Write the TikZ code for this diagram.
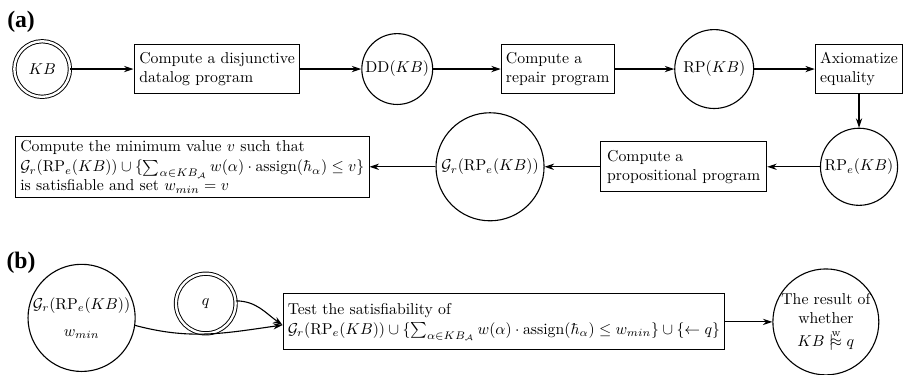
\documentclass[tikz,border=0pt]{standalone}
\usepackage{amsmath,amssymb}
\usepackage{fontspec}
\usepackage{tikz}
\usetikzlibrary{arrows.meta,calc,positioning}
\newfontfamily\panelfont{Liberation Serif}[BoldFont={Liberation Serif Bold}]
\newcommand{\wentails}{\mathrel{|\!\!\!\stackrel{\mathrm{w}}{\approx}}}
\tikzset{
  flow/.style={-{Stealth[length=6pt,width=4pt]}, line width=0.7pt},
  procbox/.style={draw, line width=0.7pt, align=left, inner xsep=3pt, inner ysep=2pt},
  datanode/.style={draw, circle, line width=0.7pt, inner sep=0pt, align=center},
  inputnode/.style={circle, draw, line width=0.6pt, double, double distance=1.5pt, inner sep=0pt},
  panellabel/.style={font=\panelfont\bfseries\fontsize{15}{15}\selectfont}
}
\begin{document}
\begin{tikzpicture}[scale=1.0]
  \useasboundingbox (0,0) rectangle (20.23,8.36);
  % (a)
  \node[panellabel] (labela) at (0.47,7.87) {(a)};
  \node[inputnode, minimum size=1.24cm] (kb) at (0.94,6.82) {$KB$};
  \node[procbox, minimum width=3.70cm, minimum height=1.09cm] (disj) at (4.84,6.82) {Compute a disjunctive\\datalog program};
  \node[datanode, minimum size=1.58cm] (dd) at (8.86,6.82) {$\mathrm{DD}(KB)$};
  \node[procbox, minimum width=2.45cm, minimum height=1.09cm] (repair) at (12.44,6.82) {Compute a\\repair program};
  \node[datanode, minimum size=1.76cm] (rp) at (15.93,6.82) {$\mathrm{RP}(KB)$};
  \node[procbox, minimum width=1.92cm, minimum height=1.09cm] (axiom) at (19.16,6.82) {Axiomatize\\equality};
  \node[datanode, minimum size=1.72cm] (rpe) at (19.16,4.64) {$\mathrm{RP}_e(KB)$};
  \node[procbox, minimum width=3.70cm, minimum height=1.11cm, inner xsep=4pt] (prop) at (15.25,4.64) {Compute a\\propositional program};
  \node[datanode, minimum size=2.41cm] (ground) at (10.93,4.64) {$\mathcal{G}_r(\mathrm{RP}_e(KB))$};
  \node[procbox, minimum width=7.83cm, minimum height=1.36cm] (minval) at (4.29,4.64) {Compute the minimum value $v$ such that\\[1pt]$\mathcal{G}_r(\mathrm{RP}_e(KB))\cup\{\sum_{\alpha\in KB_{\mathcal{A}}} w(\alpha)\cdot\mathrm{assign}(\hbar_\alpha)\leq v\}$\\is satisfiable and set $w_{min}=v$};
  \draw[flow] (kb) -- (disj);
  \draw[flow] (disj) -- (dd);
  \draw[flow] (dd) -- (repair);
  \draw[flow] (repair) -- (rp);
  \draw[flow] (rp) -- (axiom);
  \draw[flow] (axiom) -- (rpe);
  \draw[flow] (rpe) -- (prop);
  \draw[flow] (prop) -- (ground);
  \draw[flow] (ground) -- (minval);
  % (b)
  \node[panellabel] (labelb) at (0.47,2.50) {(b)};
  \node[datanode, minimum size=2.39cm] (groundw) at (1.82,1.27) {$\mathcal{G}_r(\mathrm{RP}_e(KB))$\\[5pt]$w_{min}$};
  \node[inputnode, minimum size=1.33cm] (query) at (4.59,1.59) {$q$};
  \node[procbox, minimum width=9.77cm, minimum height=1.25cm] (test) at (11.24,1.18) {Test the satisfiability of\\[1pt]$\mathcal{G}_r(\mathrm{RP}_e(KB))\cup\{\sum_{\alpha\in KB_{\mathcal{A}}} w(\alpha)\cdot\mathrm{assign}(\hbar_\alpha)\leq w_{min}\}\cup\{\leftarrow q\}$};
  \node[datanode, minimum size=2.23cm] (result) at (18.42,1.18) {The result of\\whether\\[3pt]$KB\wentails q$};
  \coordinate (testin) at ([yshift=-2pt]test.west);
  \draw[flow] (groundw.-8) to[out=-15,in=188] (testin);
  \draw[flow] (query.5) to[out=0,in=145] (testin);
  \draw[flow] (test) -- (result);
\end{tikzpicture}
\end{document}
